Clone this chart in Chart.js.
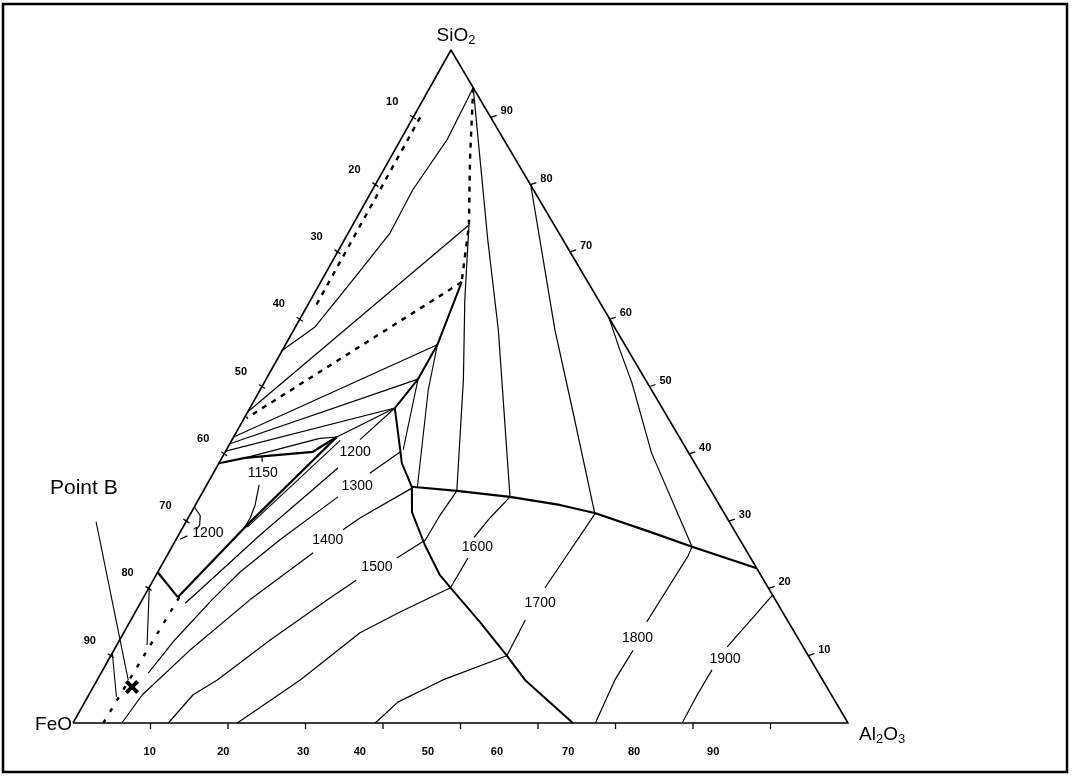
<!DOCTYPE html>
<html><head><meta charset="utf-8">
<script src="https://cdn.jsdelivr.net/npm/chart.js@4.4.0/dist/chart.umd.min.js"></script>
<style>html,body{margin:0;padding:0;background:#fff}canvas{display:block}</style>
</head><body>
<canvas id="c" width="1072" height="777"></canvas>
<script>
// Every point is a composition [SiO2 wt%, Al2O3 wt%]; FeO = 100 - SiO2 - Al2O3
const triangle = [[0,0],[100,0],[0,100],[0,0]];
const tickValues = [10,20,30,40,50,60,70,80,90];
const baseLabelAt = [9.9,19.4,29.7,37.0,45.8,54.7,63.9,72.4,82.6];

const silicaDashedEdge = [[90.0,0.9],[61.5,1.1]];
const silicaLiquidus = [[94.4,5.6],[86.6,6.0],[79.2,5.2],[72.8,5.4],[65.8,4.0],[58.8,2.5],[55.4,0]];
const dashedBoundaryUpper = [[94.4,5.6],[83.7,10.4],[74.0,15.0],[65.5,18.2]];
const dashedBoundaryLower = [[65.5,18.2],[45.3,0.3]];
const tieLine74 = [[74.0,15.0],[46.2,0]];
const boundaryUpper = [[65.5,18.2],[62.85,18.6],[56.2,19.6],[51.1,19.6],[46.8,18.7]];
const boundaryMain = [[46.8,18.7],[40.3,22.6],[38.6,23.6],[35.1,26.6],[31.35,28.45],[26.45,32.5],[22.0,36.6],[20.1,38.9],[15.0,45.2],[10.0,51.1],[6.4,55.2],[0,64.5]];
const fanT = [[56.2,19.6],[42.5,0]];
const fanR = [[51.1,19.6],[41.5,0]];
const fanQ = [[46.8,18.7],[40.4,0]];
const trough1150Top = [[38.6,0],[39.4,3.0],[40.3,11.3],[42.5,13.3]];
const trough1150Thin = [[39.4,3.0],[42.3,11.2],[42.5,13.3],[46.8,18.7]];
const troughThick = [[42.5,13.3],[29.1,8.0],[18.7,4.4]];
const troughWedge = [[29.1,8.3],[42.0,14.0]];
const notch = [[22.4,0],[18.7,4.4]];
const tieT = [[56.2,19.6],[49.5,21.7],[34.9,27.4]];
const tieR = [[51.1,19.6],[40.6,22.8]];
const mullite1 = [[74.0,15.0],[62.85,19.9],[51.0,25.5],[34.5,32.7]];
const mullite2 = [[94.4,5.6],[71.8,18.5],[58.4,26.4],[33.6,40.0]];
const mullite3 = [[79.9,20.1],[58.4,33.7],[46.1,42.05],[31.2,52.1]];
const mullite4 = [[60.2,39.8],[55.4,43.55],[50.5,47.5],[40.1,55.1],[26.2,67.1]];
const valley = [[35.1,26.6],[34.5,32.7],[33.6,40.0],[32.4,47.0],[31.2,52.1],[28.4,60.6],[26.2,67.1],[23.0,77.0]];
const feoDashed = [[18.7,4.6],[0,3.9]];
const feoTie90 = [[10.4,0],[3.9,3.7]];
const feoTie80 = [[20.2,0],[11.6,3.9]];

const iso1150a = [[39.7,5.0],[38.8,5.5]];
const iso1150b = [[35.4,6.75],[32.4,7.7],[30.5,8.0],[29.1,8.0]];
const iso1200low = [[32.1,0],[30.8,1.4],[29.4,2.0],[28.7,1.9]];
const iso1200lead = [[27.3,0.5],[27.8,1.2]];
const iso1200a = [[46.8,18.7],[42.1,16.5]];
const iso1200b = [[37.9,15.7],[27.9,10.5],[19.8,6.75],[17.8,5.8]];
const iso1300a = [[40.3,22.6],[37.1,20.2]];
const iso1300b = [[33.6,17.8],[27.2,13.4],[22.4,10.6],[18.3,9.0],[12.3,7.1],[7.4,6.1]];
const iso1400a = [[34.9,26.7],[30.5,22.2],[28.7,20.85]];
const iso1400b = [[25.3,18.65],[18.3,13.9],[10.8,9.8],[4.2,6.9],[0,6.3]];
const iso1500a = [[34.5,32.7],[30.9,32.3],[27.2,32.2],[24.5,29.85]];
const iso1500b = [[21.2,26.2],[18.3,23.9],[12.3,19.4],[6.4,15.5],[4.2,13.45],[0,12.3]];
const iso1600a = [[33.6,40.0],[30.5,38.95],[27.6,38.3]];
const iso1600b = [[24.5,39.0],[20.1,38.9],[16.5,34.15],[13.4,30.5],[6.4,26.2],[0,21.2]];
const iso1700a = [[31.1,52.2],[20.1,51.1]];
const iso1700b = [[15.3,50.9],[10.0,51.1],[6.4,44.6],[3.1,40.4],[0,39.0]];
const iso1800a = [[26.2,67.1],[24.8,67.25],[15.0,66.7]];
const iso1800b = [[10.8,67.0],[6.4,66.8],[0,67.4]];
const iso1900a = [[19.0,81.0],[11.3,78.9]];
const iso1900b = [[7.9,78.6],[4.2,78.5],[0,78.6]];

const pointB = [[5.35,5.0]];
const pointBLeader = [[29.9,-11.6],[6.4,4.0]];

const isothermTexts = ['1150','1200','1300','1400','1500','1600','1700','1800','1900','1200'];
const isothermTextAt = [[37.1,6.4],[40.3,16.75],[35.2,19.5],[27.2,19.6],[23.2,27.9],[26.2,39.4],[17.8,51.6],[12.6,66.7],[9.5,79.5],[28.2,3.65]];

const SKEW = 0.4877;
const toXY = p => ({x: p[1] + SKEW * p[0], y: p[0]});

function line(arr, w, dash) {
  return {data: arr.map(toXY), showLine: true, borderColor: '#000', backgroundColor: '#000',
    borderWidth: w, borderDash: dash || [], pointRadius: 0, pointHoverRadius: 0, fill: false, tension: 0,
    borderCapStyle: 'butt', borderJoinStyle: 'round', clip: false};
}
const D = [5, 6];
const datasets = [
  line(triangle, 1.6),
  line(silicaDashedEdge, 2.4, D), line(silicaLiquidus, 1.2),
  line(dashedBoundaryUpper, 2.4, D), line(dashedBoundaryLower, 2.4, D), line(tieLine74, 1.2),
  line(boundaryUpper, 2), line(boundaryMain, 2),
  line(fanT, 1.2), line(fanR, 1.2), line(fanQ, 1.2),
  line(trough1150Top, 2.2), line(trough1150Thin, 1.2), line(troughThick, 2.2), line(troughWedge, 1.1), line(notch, 2.2),
  line(tieT, 1.1), line(tieR, 1.1),
  line(mullite1, 1.2), line(mullite2, 1.2), line(mullite3, 1.2), line(mullite4, 1.2),
  line(valley, 2.2),
  line(feoDashed, 2.4, [4, 9]), line(feoTie90, 1.1), line(feoTie80, 1.1),
  line(iso1150a, 1.2), line(iso1150b, 1.2), line(iso1200low, 1.2), line(iso1200lead, 1.2),
  line(iso1200a, 1.2), line(iso1200b, 1.2),
  line(iso1300a, 1.2), line(iso1300b, 1.2), line(iso1400a, 1.2), line(iso1400b, 1.2),
  line(iso1500a, 1.2), line(iso1500b, 1.2), line(iso1600a, 1.2), line(iso1600b, 1.2),
  line(iso1700a, 1.2), line(iso1700b, 1.2), line(iso1800a, 1.2), line(iso1800b, 1.2),
  line(iso1900a, 1.2), line(iso1900b, 1.2),
  line(pointBLeader, 1.1),
  {data: pointB.map(toXY), showLine: false, pointStyle: 'crossRot', pointRadius: 8,
   borderColor: '#000', borderWidth: 4, clip: false}
];

const annot = {
  id: 'annot',
  afterDatasetsDraw(chart) {
    const ctx = chart.ctx, sx = chart.scales.x, sy = chart.scales.y;
    const px = p => { const q = toXY(p); return [sx.getPixelForValue(q.x), sy.getPixelForValue(q.y)]; };
    ctx.save();
    ctx.strokeStyle = '#000'; ctx.lineWidth = 2.5;
    ctx.strokeRect(3, 4, 1064, 768);
    ctx.lineWidth = 1.3;
    tickValues.forEach((v, i) => {
      let a = px([100 - v, 0]);
      ctx.beginPath(); ctx.moveTo(a[0] - 3, a[1] - 2); ctx.lineTo(a[0] + 3, a[1] + 2); ctx.stroke();
      let b = px([v, 100 - v]);
      ctx.beginPath(); ctx.moveTo(b[0], b[1]); ctx.lineTo(b[0] + 6, b[1] - 2); ctx.stroke();
      let c = px([0, v]);
      ctx.beginPath(); ctx.moveTo(c[0], c[1]); ctx.lineTo(c[0], c[1] + 6); ctx.stroke();
    });
    ctx.fillStyle = '#000';
    ctx.font = 'bold 11px "Liberation Sans", Arial, sans-serif';
    ctx.textAlign = 'center'; ctx.textBaseline = 'middle';
    tickValues.forEach((v, i) => {
      let a = px([100 - v, 0]); ctx.fillText(String(v), a[0] - 21, a[1] - 15);
      let b = px([v, 100 - v]); ctx.fillText(String(v), b[0] + 16, b[1] - 6);
      let c = px([0, baseLabelAt[i]]); ctx.fillText(String(v), c[0], c[1] + 29);
    });
    ctx.font = '14px "Liberation Sans", Arial, sans-serif';
    isothermTexts.forEach((t, i) => { const p = px(isothermTextAt[i]); ctx.fillText(t, p[0], p[1]); });
    const chem = (parts, x, y, align) => {
      const big = '19px "Liberation Sans", Arial, sans-serif', small = '13px "Liberation Sans", Arial, sans-serif';
      let w = 0;
      parts.forEach(([t, sub]) => { ctx.font = sub ? small : big; w += ctx.measureText(t).width; });
      let cx = align === 'center' ? x - w / 2 : align === 'right' ? x - w : x;
      ctx.textAlign = 'left'; ctx.textBaseline = 'alphabetic';
      parts.forEach(([t, sub]) => { ctx.font = sub ? small : big; ctx.fillText(t, cx, sub ? y + 3 : y); cx += ctx.measureText(t).width; });
    };
    const apex = px([100, 0]), feo = px([0, 0]), al = px([0, 100]);
    chem([['SiO', false], ['2', true]], apex[0] + 5, apex[1] - 9, 'center');
    chem([['FeO', false]], feo[0] - 1, feo[1] + 7, 'right');
    chem([['Al', false], ['2', true], ['O', false], ['3', true]], al[0] + 11, al[1] + 17, 'left');
    ctx.font = '21px "Liberation Sans", Arial, sans-serif';
    ctx.textAlign = 'left'; ctx.textBaseline = 'alphabetic';
    ctx.fillText('Point B', 50, 494);
    ctx.restore();
  }
};

new Chart(document.getElementById('c'), {
  type: 'scatter',
  data: {datasets},
  options: {
    responsive: false, animation: false, devicePixelRatio: 1,
    layout: {padding: 0, autoPadding: false},
    plugins: {legend: {display: false}, tooltip: {enabled: false}},
    scales: {
      x: {type: 'linear', display: false, min: -9.419, max: 128.90},
      y: {type: 'linear', display: false, min: -8.024, max: 107.43}
    }
  },
  plugins: [annot]
});
</script>
</body></html>
